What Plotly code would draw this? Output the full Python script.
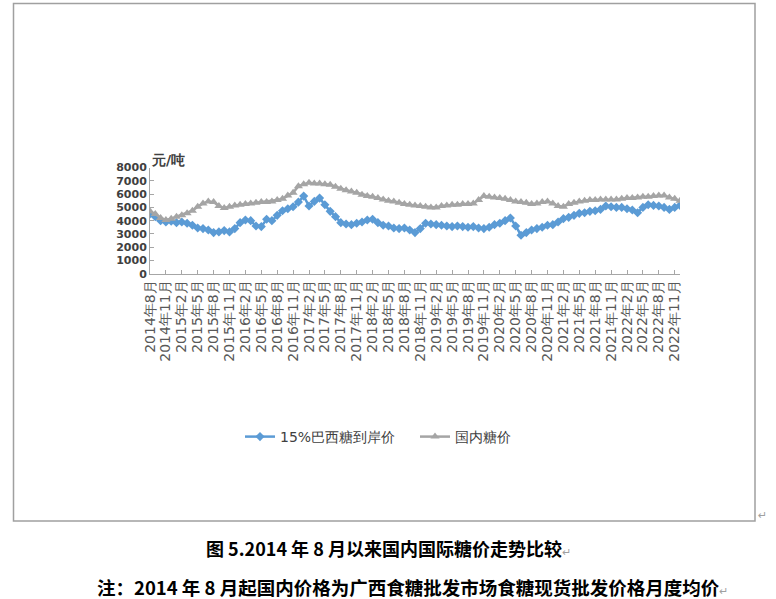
import plotly.graph_objects as go

# Monthly categories: 2014-08 ... 2022-12
start_year = 2014
start_month = 8
n_months = 101
months = []
for k in range(n_months):
    y = start_year + (start_month - 1 + k) // 12
    m = (start_month - 1 + k) % 12 + 1
    months.append(f"{y}年{m}月")

brazil_15pct = [
    4500, 4300, 4000, 3900, 3950, 3850, 3900, 3800, 3650, 3450,
    3400, 3300, 3100, 3150, 3250, 3150, 3400, 3850, 4050, 4000,
    3600, 3550, 4100, 4000, 4400, 4750, 4900, 5050, 5400, 5850,
    5100, 5450, 5700, 5200, 4700, 4300, 3850, 3750, 3700, 3800,
    3900, 4050, 4100, 3850, 3650, 3600, 3450, 3400, 3450, 3300,
    3100, 3400, 3800, 3750, 3700, 3650, 3600, 3550, 3600, 3550,
    3500, 3550, 3450, 3400, 3500, 3700, 3800, 4000, 4200, 3600,
    2900, 3100, 3300, 3400, 3500, 3650, 3700, 3900, 4150, 4250,
    4400, 4550, 4600, 4700, 4750, 4850, 5100, 5050, 5000, 5000,
    4900, 4800, 4600, 5000, 5200, 5150, 5100, 5000, 4850, 5000,
    5150,
]

domestic = [
    4700, 4500, 4200, 4050, 4150, 4300, 4400, 4550, 4750, 5050,
    5300, 5450, 5400, 5100, 4950, 5050, 5150, 5200, 5250, 5300,
    5350, 5400, 5400, 5450, 5550, 5650, 5900, 6100, 6600, 6750,
    6850, 6800, 6800, 6750, 6700, 6550, 6400, 6300, 6200, 6100,
    5950, 5850, 5800, 5700, 5600, 5500, 5450, 5350, 5250, 5200,
    5150, 5100, 5050, 5000, 5000, 5100, 5150, 5200, 5200, 5250,
    5250, 5300, 5550, 5850, 5800, 5750, 5700, 5650, 5550, 5450,
    5400, 5350, 5250, 5300, 5400, 5450, 5300, 5100, 5050, 5250,
    5350, 5450, 5500, 5550, 5550, 5600, 5600, 5600, 5600, 5650,
    5700, 5700, 5750, 5800, 5800, 5850, 5900, 5900, 5750, 5650,
    5500,
]

y_ticks = [0, 1000, 2000, 3000, 4000, 5000, 6000, 7000, 8000]
series_names = ["15%巴西糖到岸价", "国内糖价"]
unit_label = "元/吨"
caption = "图 5.2014 年 8 月以来国内国际糖价走势比较"
note = "注：2014 年 8 月起国内价格为广西食糖批发市场食糖现货批发价格月度均价"

W, H = 776, 599
x_idx = list(range(n_months))
tick_idx = x_idx[::3][:34]
tick_txt = [months[i] for i in tick_idx]

fig = go.Figure()
fig.add_trace(go.Scatter(
    x=x_idx, y=brazil_15pct, name=series_names[0], mode="lines+markers",
    line=dict(color="#5B9BD5", width=2.5),
    marker=dict(symbol="diamond", size=7, color="#5B9BD5"),
))
fig.add_trace(go.Scatter(
    x=x_idx, y=domestic, name=series_names[1], mode="lines+markers",
    line=dict(color="#A5A5A5", width=2.5),
    marker=dict(symbol="triangle-up", size=8, color="#A5A5A5"),
))

def px_x(p):
    return p / W

def px_y(p):
    return 1 - p / H

fig.update_layout(
    width=W, height=H, autosize=False,
    margin=dict(l=0, r=0, t=0, b=0, autoexpand=False),
    paper_bgcolor="white", plot_bgcolor="white",
    font=dict(family="DejaVu Sans", color="#404040"),
    xaxis=dict(
        domain=[px_x(150), px_x(680)],
        range=[0, n_months - 1],
        tickmode="array", tickvals=tick_idx, ticktext=tick_txt,
        tickangle=-90, tickfont=dict(size=14, color="#595959"),
        ticks="inside", ticklen=4, tickcolor="#A6A6A6",
        showline=True, linecolor="#A6A6A6", linewidth=1,
        showgrid=False, zeroline=False, fixedrange=True,
    ),
    yaxis=dict(
        domain=[px_y(273.7), px_y(167.6)],
        range=[0, 8000],
        tickmode="array", tickvals=y_ticks,
        tickfont=dict(size=11, color="#404040", weight="bold"),
        ticks="inside", ticklen=4, tickcolor="#A6A6A6",
        showline=True, linecolor="#A6A6A6", linewidth=1,
        showgrid=False, zeroline=False, fixedrange=True,
    ),
    legend=dict(
        orientation="h", x=px_x(240), y=px_y(437),
        xanchor="left", yanchor="middle",
        font=dict(size=14, color="#404040"),
        bgcolor="rgba(0,0,0,0)", entrywidth=130,
        itemwidth=30,
    ),
    showlegend=True,
    shapes=[dict(
        type="rect", xref="paper", yref="paper",
        x0=px_x(13.5), x1=px_x(755), y0=px_y(521), y1=px_y(3.5),
        line=dict(color="#A0A0A0", width=1.5), fillcolor="rgba(0,0,0,0)",
    )],
    annotations=[
        dict(text="<b>" + unit_label + "</b>", xref="paper", yref="paper",
             x=px_x(149), y=px_y(160), xanchor="left", yanchor="middle",
             showarrow=False, font=dict(size=14, color="#404040")),
        dict(text="↵", xref="paper", yref="paper",
             x=px_x(756), y=px_y(515), xanchor="left", yanchor="middle",
             showarrow=False, font=dict(size=11, color="#A0A0A0")),
        dict(text="<b>" + caption + "</b><span style='color:#A0A0A0;font-size:11px'>↵</span>",
             xref="paper", yref="paper",
             x=px_x(388), y=px_y(548), xanchor="center", yanchor="middle",
             showarrow=False,
             font=dict(size=18, color="#000000", family="Noto Sans CJK SC")),
        dict(text="<b>" + note + "</b><span style='color:#A0A0A0;font-size:11px'>↵</span>",
             xref="paper", yref="paper",
             x=px_x(95), y=px_y(587), xanchor="left", yanchor="middle",
             showarrow=False,
             font=dict(size=18.5, color="#000000", family="Noto Sans CJK SC")),
    ],
)

fig.write_html(
    "out.html",
    config={"displayModeBar": False},
    post_script="document.body.style.margin='0px';document.body.style.overflow='hidden';",
)
